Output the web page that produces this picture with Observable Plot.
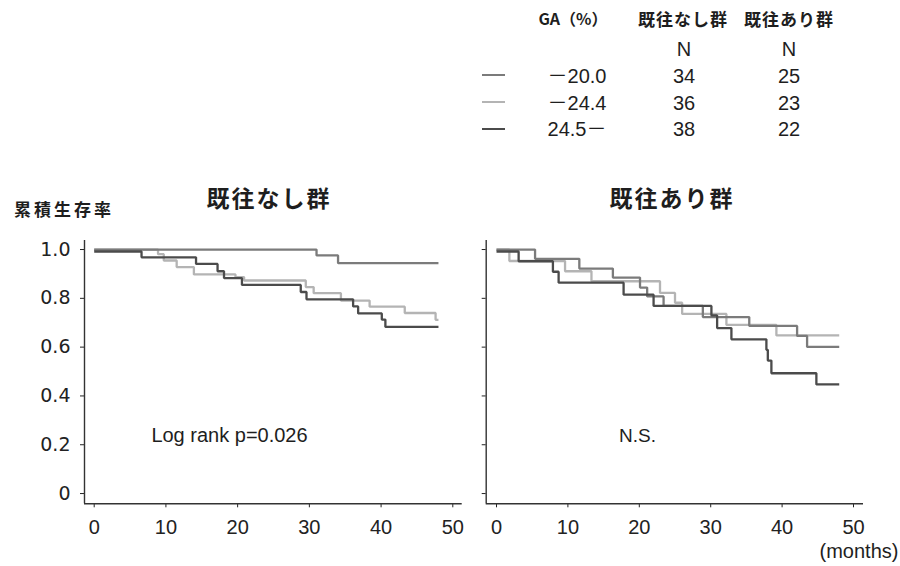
<!DOCTYPE html>
<html>
<head>
<meta charset="utf-8">
<script src="https://cdn.jsdelivr.net/npm/d3@7"></script>
<script src="https://cdn.jsdelivr.net/npm/@observablehq/plot@0.6"></script>
<style>
  body { margin: 0; background: #fff; }
  #root { position: relative; width: 900px; height: 566px; background: #fff; color: #1e1e1e;
          font-family: "Liberation Sans", "Noto Sans CJK JP", sans-serif; overflow: hidden; }
  .t { position: absolute; white-space: nowrap; transform: translate(-50%, -50%); line-height: 1; }
  .cjk { font-family: "Noto Sans CJK JP", sans-serif; font-weight: 700; }
  .sw { position: absolute; height: 0; border-top: 2.5px solid; }
  .plot { position: absolute; }
</style>
</head>
<body>
<div id="root"></div>
<script>
// ---------------- data ----------------
const groupLabels = ["－20.0", "－24.4", "24.5－"];
const panelTitles = ["既往なし群", "既往あり群"];
const nNone  = [34, 36, 38];
const nPrior = [25, 23, 22];
const xTicks = [0, 10, 20, 30, 40, 50];
const yTicks = [0, 0.2, 0.4, 0.6, 0.8, 1.0];
const yTickLabels = ["0", "0.2", "0.4", "0.6", "0.8", "1.0"];
const groupColors = ["#7b7b7b", "#b4b4b4", "#4b4b4b"];

// 既往なし群
const none_t1 = [0, 31.0, 34.0, 48];
const none_s1 = [1.0, 0.976, 0.944, 0.944];
const none_t2 = [0, 8.9, 9.7, 11.5, 13.9, 19.7, 20.9, 29.5, 30.6, 34.4, 38.4, 43.3, 47.6, 48];
const none_s2 = [1.0, 0.981, 0.955, 0.928, 0.898, 0.887, 0.873, 0.846, 0.821, 0.791, 0.766, 0.740, 0.712, 0.712];
const none_t3 = [0, 6.6, 14.2, 17.2, 18.1, 20.6, 28.8, 29.6, 36.1, 36.8, 40.1, 40.6, 48];
const none_s3 = [0.992, 0.968, 0.941, 0.911, 0.883, 0.855, 0.826, 0.796, 0.767, 0.738, 0.713, 0.683, 0.683];

// 既往あり群
const prior_t1 = [0, 5.4, 11.6, 16.3, 20.1, 21.1, 23.4, 28.9, 35.4, 42.1, 43.5, 48];
const prior_s1 = [1.0, 0.962, 0.922, 0.885, 0.844, 0.808, 0.769, 0.723, 0.687, 0.646, 0.601, 0.601];
const prior_t2 = [0, 1.8, 9.6, 13.3, 22.9, 25.0, 26.0, 32.2, 39.2, 48];
const prior_s2 = [1.0, 0.953, 0.911, 0.870, 0.822, 0.782, 0.736, 0.691, 0.648, 0.648];
const prior_t3 = [0, 3.1, 7.9, 8.7, 17.8, 22.0, 30.1, 30.9, 32.9, 37.8, 38.0, 38.5, 44.8, 48];
const prior_s3 = [0.992, 0.952, 0.909, 0.864, 0.815, 0.769, 0.730, 0.678, 0.632, 0.589, 0.545, 0.493, 0.447, 0.447];

// ---------------- helpers ----------------
function rows(ts, ss, g) { return ts.map((t, i) => ({ t, s: ss[i], g })); }
const drawOrder = [1, 0, 2]; // light, medium, dark on top
function table(tsArr, ssArr) {
  return drawOrder.flatMap(i => rows(tsArr[i], ssArr[i], groupLabels[i]));
}
const dataNone  = table([none_t1, none_t2, none_t3], [none_s1, none_s2, none_s3]);
const dataPrior = table([prior_t1, prior_t2, prior_t3], [prior_s1, prior_s2, prior_s3]);

const root = document.getElementById("root");
function addText(txt, x, y, css, cls) {
  const d = document.createElement("div");
  d.className = "t" + (cls ? " " + cls : "");
  d.textContent = txt;
  d.style.left = x + "px"; d.style.top = y + "px";
  Object.assign(d.style, css || {});
  root.appendChild(d);
  return d;
}

// ---------------- legend table ----------------
addText("GA（%）", 573, 18, { fontSize: "16px" }, "cjk");
addText(panelTitles[0], 683, 18, { fontSize: "17px", letterSpacing: "1px" }, "cjk");
addText(panelTitles[1], 789, 18, { fontSize: "17px", letterSpacing: "1px" }, "cjk");
addText("N", 684, 48.5, { fontSize: "20px" });
addText("N", 789, 48.5, { fontSize: "20px" });
const rowY = [75.5, 102.5, 129];
groupLabels.forEach((lab, i) => {
  const sw = document.createElement("div");
  sw.className = "sw";
  sw.style.left = "482px"; sw.style.width = "23px";
  sw.style.top = (rowY[i] - 1.25) + "px";
  sw.style.borderTopColor = groupColors[i];
  root.appendChild(sw);
  addText(lab, 577, rowY[i], { fontSize: "20px" });
  addText(String(nNone[i]), 684, rowY[i], { fontSize: "20px" });
  addText(String(nPrior[i]), 789, rowY[i], { fontSize: "20px" });
});

// ---------------- titles & labels ----------------
addText("累積生存率", 64, 207.5, { fontSize: "17px", letterSpacing: "3px" }, "cjk");
addText(panelTitles[0], 269, 197, { fontSize: "23px", letterSpacing: "2px" }, "cjk");
addText(panelTitles[1], 672, 197, { fontSize: "23px", letterSpacing: "2px" }, "cjk");
addText("Log rank p=0.026", 229.5, 435, { fontSize: "20px" });
addText("N.S.", 637.5, 435, { fontSize: "19px" });
addText("(months)", 859, 551, { fontSize: "20px" });

// ---------------- plots ----------------
function makePlot(data, opts) {
  const xDomain = opts.xDomain, yDomain = [-0.042, 1.037];
  const svg = Plot.plot({
    width: 470, height: 314,
    marginLeft: opts.marginLeft, marginRight: opts.marginRight,
    marginTop: 10, marginBottom: 40.7,
    style: { fontFamily: "'Liberation Sans', sans-serif", fontSize: "20px", color: "#222",
             background: "transparent", overflow: "visible" },
    x: { domain: xDomain, ticks: xTicks, tickSize: 4, tickPadding: 12, label: null,
         tickFormat: d => String(d) },
    y: { domain: yDomain, ticks: yTicks, tickSize: 4, tickPadding: 10, label: null,
         tickFormat: opts.showY ? (d => yTickLabels[yTicks.indexOf(d)]) : (() => "") },
    color: { domain: groupLabels, range: groupColors },
    marks: [
      Plot.ruleX([xDomain[0]], { stroke: "#333", strokeWidth: 1.4 }),
      Plot.ruleY([yDomain[0]], { stroke: "#333", strokeWidth: 1.4 }),
      Plot.line(data, { x: "t", y: "s", z: "g", stroke: "g", curve: "step-after",
                        strokeWidth: 2.3, strokeLinejoin: "miter", strokeLinecap: "butt" })
    ]
  });
  svg.classList.add("plot");
  svg.style.left = opts.left + "px";
  svg.style.top = "230px";
  d3.select(svg).selectAll('g[aria-label^="y-axis"] text')
    .style("font-family", "'DejaVu Sans', sans-serif")
    .style("font-size", "19px");
  d3.select(svg).selectAll('g[aria-label^="x-axis"] text')
    .style("font-size", "20px");
  root.appendChild(svg);
  return svg;
}

makePlot(dataNone,  { left: 0,   marginLeft: 84,   marginRight: 8.3, xDomain: [-1.352, 51.31], showY: true });
makePlot(dataPrior, { left: 400, marginLeft: 85.7, marginRight: 7,   xDomain: [-1.443, 51.40], showY: false });
</script>
</body>
</html>
